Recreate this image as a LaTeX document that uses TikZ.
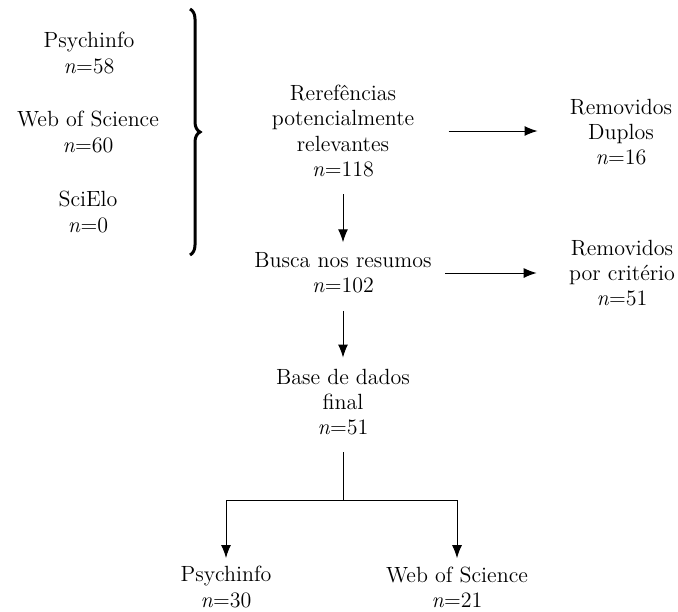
\documentclass[tikz,border=0pt]{standalone}
\usepackage{amsmath}
\usepackage{amssymb}
\usetikzlibrary{arrows.meta,decorations.pathreplacing}

\tikzset{
  txt/.style={align=center,inner sep=4pt,font=\fontsize{11}{12.6}\selectfont},
  arr/.style={-{Latex[length=6.5pt,width=5pt]},line width=0.5pt},
  down/.style={arr,shorten <=4.5pt},
}

\begin{document}
\begin{tikzpicture}[x=0.5pt,y=-0.5pt]
					\useasboundingbox (0,0) rectangle (678,611);

					% bases de dados
					\node[txt] (psy) at (89,53) {Psychinfo\\\textit{n}=58};
					\node[txt] (wos) at (88,132) {Web of Science\\\textit{n}=60};
					\node[txt] (sci) at (88,212) {SciElo\\\textit{n}=0};

					\coordinate (bracetop) at (190,9);
					\coordinate (bracebot) at (190,255);
					\draw [line width=1.5pt,decorate,decoration={brace,amplitude=5pt}] (bracetop) -- (bracebot);

					% fluxo central
					\node[txt] (ref) at (343,131) {Rerefências\\potencialmente\\relevantes\\\textit{n}=118};
					\node[txt] (dup) at (621,132) {Removidos\\Duplos\\\textit{n}=16};
					\node[txt] (busca) at (343,273) {Busca nos resumos\\\textit{n}=102};
					\node[txt] (crit) at (622,273) {Removidos\\por critério\\\textit{n}=51};
					\node[txt] (base) at (343,402) {Base de dados\\final\\\textit{n}=51};

					\draw [arr,shorten <=13pt,shorten >=12pt] (ref) -- (ref -| dup.west);
					\draw [arr,shorten <=2.5pt,shorten >=12pt] (busca) -- (busca -| crit.west);
					\draw [down,shorten >=1pt] (ref) -- (busca);
					\draw [down,shorten >=1.5pt] (busca) -- (base);

					% divisao final
					\node[txt] (psy2) at (226,587) {Psychinfo\\\textit{n}=30};
					\node[txt] (wos2) at (457,587) {Web of Science\\\textit{n}=21};
					\coordinate (split) at (343,500);
					\draw [line width=0.5pt,shorten <=4.5pt] (base) -- (split);
					\draw [arr] (split) -| (psy2);
					\draw [arr] (split) -| (wos2);
\end{tikzpicture}
\end{document}
